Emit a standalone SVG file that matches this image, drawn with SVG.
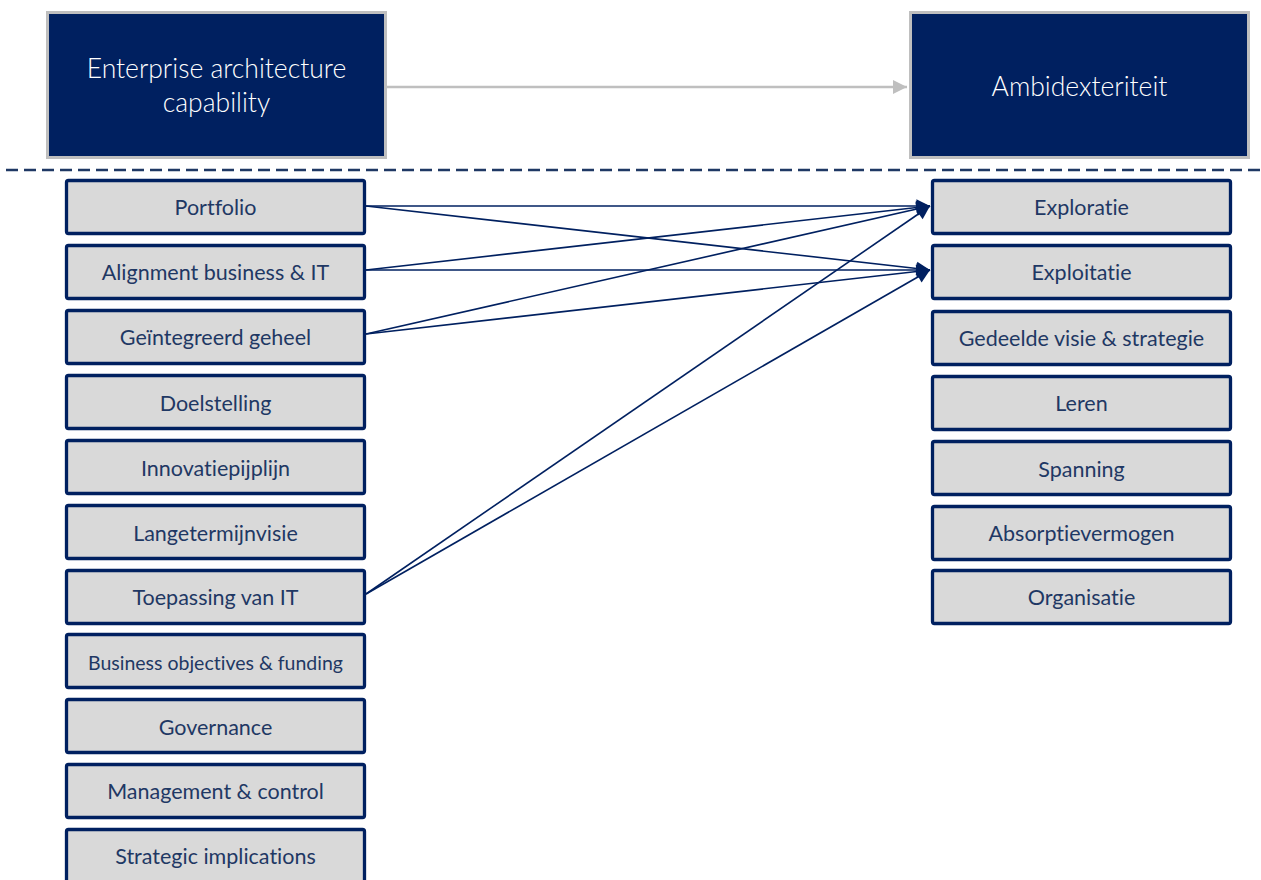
<svg xmlns="http://www.w3.org/2000/svg" width="1261" height="880" viewBox="0 0 1261 880">
  <style>
    text { font-variant-ligatures: none; font-feature-settings: "liga" 0, "dlig" 0; }
    .head rect { fill: #002060; stroke: #bfbfbf; stroke-width: 3; }
    .head text { fill: #ffffff; font-family: Lato, "Open Sans", sans-serif; font-weight: 300; font-size: 26.5px; text-anchor: middle; }
    .item rect { fill: #d9d9d9; stroke: #002060; stroke-width: 3.3; rx: 2; }
    .item text { fill: #1f3864; font-family: Lato, "Open Sans", sans-serif; font-size: 21.5px; text-anchor: middle; dominant-baseline: central; }
    .item text.small { font-size: 19.5px; }
    .link { stroke: #002060; stroke-width: 1.6; fill: none; marker-end: url(#navyArrow); }
  </style>
  <defs>
    <marker id="navyArrow" viewBox="0 0 10 10" refX="10" refY="5" markerWidth="8" markerHeight="8" markerUnits="userSpaceOnUse" orient="auto" overflow="visible">
      <path d="M0,0 L10,5 L0,10 z" fill="#002060" transform="scale(1.7) translate(-4.1,-2.1)"/>
    </marker>
    <marker id="greyArrow" viewBox="0 0 10 10" refX="10" refY="5" markerWidth="16" markerHeight="14" markerUnits="userSpaceOnUse" orient="auto">
      <path d="M0,0 L10,5 L0,10 z" fill="#bfbfbf"/>
    </marker>
  </defs>

  <rect width="1261" height="880" fill="#ffffff"/>

  <!-- top level concepts -->
  <g id="ea-capability" class="head">
    <rect x="47.5" y="12.5" width="338" height="145"/>
    <text x="216.5" y="78">Enterprise architecture</text>
    <text x="216.5" y="112">capability</text>
  </g>
  <g id="ambidexteriteit" class="head">
    <rect x="910.5" y="12.5" width="338" height="145"/>
    <text x="1079.5" y="96">Ambidexteriteit</text>
  </g>

  <!-- separator -->
  <line x1="6" y1="170" x2="1261" y2="170" stroke="#1f3864" stroke-width="2.5" stroke-dasharray="12 6"/>

  <!-- dimensions of EA capability -->
  <g id="portfolio" class="item"><rect x="66.5" y="180.5" width="298" height="53"/><text x="215.5" y="207">Portfolio</text></g>
  <g id="alignment" class="item"><rect x="66.5" y="245.5" width="298" height="53"/><text x="215.5" y="272">Alignment business &amp; IT</text></g>
  <g id="geintegreerd" class="item"><rect x="66.5" y="310.5" width="298" height="53"/><text x="215.5" y="337">Geïntegreerd geheel</text></g>
  <g id="doelstelling" class="item"><rect x="66.5" y="375.5" width="298" height="53"/><text x="215.5" y="403">Doelstelling</text></g>
  <g id="innovatiepijplijn" class="item"><rect x="66.5" y="440.5" width="298" height="53"/><text x="215.5" y="468">Innovatiepijplijn</text></g>
  <g id="langetermijnvisie" class="item"><rect x="66.5" y="505.5" width="298" height="53"/><text x="215.5" y="533">Langetermijnvisie</text></g>
  <g id="toepassing" class="item"><rect x="66.5" y="570.5" width="298" height="53"/><text x="215.5" y="597">Toepassing van IT</text></g>
  <g id="objectives" class="item"><rect x="66.5" y="634.5" width="298" height="53"/><text class="small" x="215.5" y="662">Business objectives &amp; funding</text></g>
  <g id="governance" class="item"><rect x="66.5" y="699.5" width="298" height="53"/><text x="215.5" y="727">Governance</text></g>
  <g id="management" class="item"><rect x="66.5" y="764.5" width="298" height="53"/><text x="215.5" y="791">Management &amp; control</text></g>
  <g id="strategic" class="item"><rect x="66.5" y="829.5" width="298" height="60"/><text x="215.5" y="856">Strategic implications</text></g>

  <!-- dimensions of ambidexterity -->
  <g id="exploratie" class="item"><rect x="932.5" y="180.5" width="298" height="53"/><text x="1081.5" y="207">Exploratie</text></g>
  <g id="exploitatie" class="item"><rect x="932.5" y="245.5" width="298" height="53"/><text x="1081.5" y="272">Exploitatie</text></g>
  <g id="visie" class="item"><rect x="932.5" y="311.5" width="298" height="53"/><text x="1081.5" y="338">Gedeelde visie &amp; strategie</text></g>
  <g id="leren" class="item"><rect x="932.5" y="376.5" width="298" height="53"/><text x="1081.5" y="403">Leren</text></g>
  <g id="spanning" class="item"><rect x="932.5" y="441.5" width="298" height="53"/><text x="1081.5" y="469">Spanning</text></g>
  <g id="absorptie" class="item"><rect x="932.5" y="506.5" width="298" height="53"/><text x="1081.5" y="533">Absorptievermogen</text></g>
  <g id="organisatie" class="item"><rect x="932.5" y="570.5" width="298" height="53"/><text x="1081.5" y="597">Organisatie</text></g>

  <!-- connectors -->
  <g id="connectors">
    <line x1="387" y1="87" x2="907" y2="87" stroke="#bfbfbf" stroke-width="2.5" marker-end="url(#greyArrow)"/>
    <line class="link" x1="366" y1="206" x2="930" y2="206"/>
    <line class="link" x1="366" y1="206" x2="930" y2="270"/>
    <line class="link" x1="366" y1="270" x2="930" y2="206"/>
    <line class="link" x1="366" y1="270" x2="930" y2="270"/>
    <line class="link" x1="366" y1="334" x2="930" y2="206"/>
    <line class="link" x1="366" y1="334" x2="930" y2="270"/>
    <line class="link" x1="366" y1="594" x2="930" y2="206"/>
    <line class="link" x1="366" y1="594" x2="930" y2="270"/>
  </g>
</svg>
